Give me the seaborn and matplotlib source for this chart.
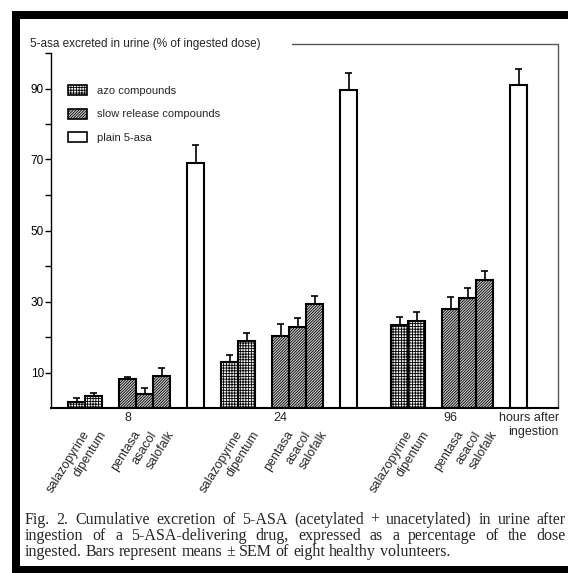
import matplotlib
matplotlib.use('Agg')
import matplotlib.pyplot as plt
from matplotlib.patches import Patch, Rectangle
import seaborn as sns
import pandas as pd

hours = ['8', '24', '96']
drugs = ['salazopyrine', 'dipentum', 'pentasa', 'asacol', 'salofalk', 'plain 5-asa']
kinds = ['azo', 'azo', 'slow', 'slow', 'slow', 'plain']
means = {
    '8': [1.7, 3.4, 8.2, 4.0, 9.1, 68.9],
    '24': [13.0, 18.9, 20.3, 22.8, 29.3, 89.6],
    '96': [23.4, 24.5, 27.9, 31.0, 36.0, 91.0],
}
sems = {
    '8': [1.1, 0.8, 0.6, 1.6, 2.2, 5.2],
    '24': [2.0, 2.2, 3.3, 2.5, 2.2, 4.8],
    '96': [2.2, 2.5, 3.4, 2.8, 2.6, 4.5],
}
legend_labels = {'azo': 'azo compounds', 'slow': 'slow release compounds', 'plain': 'plain 5-asa'}
caption = [
    'Fig. 2. Cumulative excretion of 5-ASA (acetylated + unacetylated) in urine after',
    'ingestion of a 5-ASA-delivering drug, expressed as a percentage of the dose',
    'ingested. Bars represent means \u00b1 SEM of eight healthy volunteers.',
]

# layout of the bars along x (bar width = 1 unit)
group_start = {'8': 1.5, '24': 10.5, '96': 20.5}
offsets = [0, 1, 3, 4, 5, 7]

rows = []
for h in hours:
    for d, k, m, s, o in zip(drugs, kinds, means[h], sems[h], offsets):
        rows.append({'hour': h, 'drug': d, 'kind': k, 'mean': m, 'sem': s,
                     'pos': group_start[h] + o})
df = pd.DataFrame(rows).sort_values('pos').reset_index(drop=True)

sns.set_theme(style='ticks')
plt.rcParams['font.family'] = ['Liberation Sans', 'DejaVu Sans']
plt.rcParams['hatch.linewidth'] = 0.6

W, H = 568, 573
fig = plt.figure(figsize=(W / 100, H / 100), dpi=100)
ax = fig.add_axes([51 / W, 1 - 408 / H, (558 - 51) / W, (408 - 53) / H])

style = {'azo': dict(facecolor='#f2f2f2', hatch='+' * 6),
         'slow': dict(facecolor='#cfcfcf', hatch='/' * 12),
         'plain': dict(facecolor='white', hatch='')}

# error bars (upper half only), drawn below the bars
ax.vlines(df['pos'], df['mean'], df['mean'] + df['sem'], color='black', lw=1.2, zorder=1)
ax.hlines(df['mean'] + df['sem'], df['pos'] - 0.2, df['pos'] + 0.2, color='black', lw=1.2, zorder=1)

sns.barplot(data=df, x='pos', y='mean', native_scale=True, width=1, color='white',
            edgecolor='black', linewidth=1.5, errorbar=None, ax=ax, zorder=2)
bars = sorted(ax.patches, key=lambda p: p.get_x())
for p, k in zip(bars, df['kind']):
    p.set_facecolor(style[k]['facecolor'])
    p.set_hatch(style[k]['hatch'])
    p.set_edgecolor('black')

ax.set_xlim(0, 29.8)
ax.set_ylim(0, 100)
ax.set_xticks([])
ax.set_yticks(range(10, 101, 10))
ax.set_yticklabels([str(v) if v % 20 == 10 else '' for v in range(10, 101, 10)], fontsize=8.5)
ax.tick_params(axis='y', length=4, width=1, pad=1, colors='black')
ax.set_xlabel('')
ax.set_ylabel('')
sns.despine(ax=ax, top=True, right=True)
ax.spines['left'].set_linewidth(1)
ax.spines['bottom'].set_linewidth(1.5)
ax.spines['left'].set_color('black')
ax.spines['bottom'].set_color('black')

# frame line from the title round to the baseline
ax.plot([0.475, 1, 1], [1.025, 1.025, 0], transform=ax.transAxes, clip_on=False,
        color='#555555', lw=1)
fig.text(30 / W, 1 - 44 / H, '5-asa excreted in urine (% of ingested dose)',
         fontsize=8.5, va='center', ha='left')

# group labels and drug names
for h in hours:
    sub = df[df['hour'] == h]
    ax.annotate(h, xy=(sub[sub['drug'] == 'pentasa']['pos'].iloc[0], 0),
                xytext=(0, -10), textcoords='offset pixels', ha='center', va='center',
                fontsize=9)
    for _, r in sub[sub['kind'] != 'plain'].iterrows():
        ax.annotate(r['drug'], xy=(r['pos'], 0), xytext=(5, -21), textcoords='offset pixels',
                    ha='right', va='top', rotation=58, rotation_mode='anchor', fontsize=9)
ax.annotate('hours after\ningestion', xy=(1, 0), xycoords='axes fraction',
            xytext=(1, -4), textcoords='offset pixels', ha='right', va='top',
            multialignment='right', fontsize=9, linespacing=1.25)

handles = [Patch(facecolor=style[k]['facecolor'], hatch=style[k]['hatch'], edgecolor='black',
                 linewidth=1.2, label=legend_labels[k]) for k in ['azo', 'slow', 'plain']]
ax.legend(handles=handles, loc='upper left', bbox_to_anchor=(68 / W, 1 - 85 / H),
          bbox_transform=fig.transFigure, frameon=False, fontsize=8, handlelength=1.7,
          handleheight=1.0, handletextpad=0.9, labelspacing=1.15, borderpad=0,
          borderaxespad=0)

# caption, justified by spacing the words
renderer = fig.canvas.get_renderer()
x0, x1 = 25, 566
for i, (line, y) in enumerate(zip(caption, [520, 536, 552])):
    words = line.split(' ')
    texts = [fig.text(0, 1 - y / H, w, fontsize=11.5, family='Liberation Serif',
                      va='center', ha='left') for w in words]
    widths = [t.get_window_extent(renderer).width for t in texts]
    space = renderer.get_text_width_height_descent(' ', texts[0].get_fontproperties(), False)[0]
    gap = (x1 - x0 - sum(widths)) / (len(words) - 1) if i < len(caption) - 1 else space
    x = x0
    for t, w in zip(texts, widths):
        t.set_x(x / W)
        x += w + gap

# black scan border
for (bx, by, bw, bh) in [(12, 11, W - 12, 8), (12, 11, 8, H - 11), (12, 566, W - 12, 7)]:
    fig.add_artist(Rectangle((bx / W, 1 - (by + bh) / H), bw / W, bh / H,
                             transform=fig.transFigure, color='black', lw=0))

fig.savefig('out.png', dpi=100)
